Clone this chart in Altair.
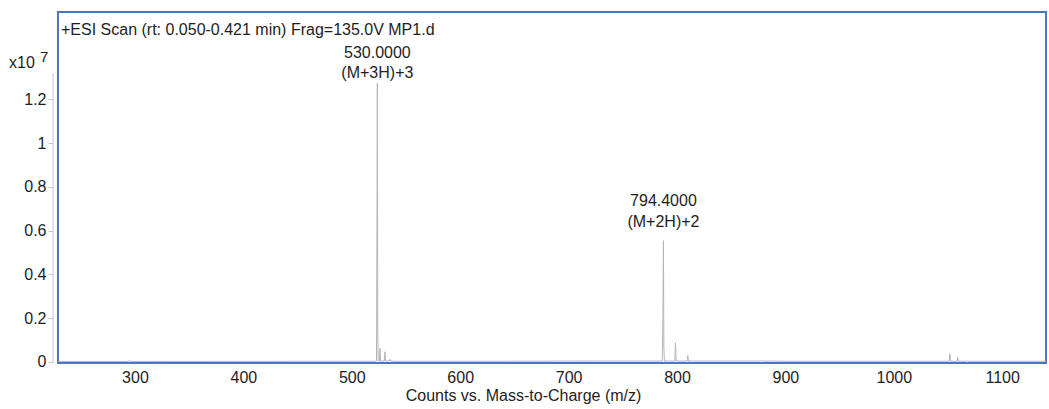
import altair as alt
import pandas as pd

# Spectrum profile (m/z, intensity in units of 1e7 counts)
mz = [229, 294.2, 295.0, 295.8, 522.0, 522.8, 523.3, 523.6, 524.0, 524.4,
      525.5, 526.0, 526.5, 530.0, 530.6, 531.2, 534.5, 535.2, 536.0, 540,
      620, 745, 786.4, 787.0, 787.5, 787.9, 788.4, 798.0, 798.6, 799.2,
      809.4, 810.0, 810.6, 820, 877.3, 878.0, 878.7, 900, 1051.0, 1051.7,
      1052.4, 1058.4, 1059.0, 1059.6, 1067.4, 1068.0, 1068.6, 1140.4]
intensity = [0.002, 0.002, 0.008, 0.002, 0.003, 0.004, 0.72, 1.275, 0.12, 0.004,
             0.004, 0.062, 0.004, 0.004, 0.046, 0.004, 0.004, 0.012, 0.004, 0.003,
             0.003, 0.004, 0.004, 0.19, 0.555, 0.06, 0.004, 0.004, 0.087, 0.004,
             0.004, 0.029, 0.004, 0.004, 0.004, 0.007, 0.004, 0.003, 0.003, 0.037,
             0.003, 0.003, 0.02, 0.003, 0.003, 0.006, 0.003, 0.003]

peak_mz = [523.6, 787.5]
peak_h = [1.275, 0.555]
peak_value = ["530.0000", "794.4000"]
peak_ion = ["(M+3H)+3", "(M+2H)+2"]

x_ticks = [300, 400, 500, 600, 700, 800, 900, 1000, 1100]
y_ticks = [0, 0.2, 0.4, 0.6, 0.8, 1.0, 1.2]

FONT = "Liberation Sans"
TXT = "#1e1e1e"

spec = pd.DataFrame({"mz": mz, "i": intensity})
peaks = pd.DataFrame({"mz": peak_mz, "h": peak_h, "v": peak_value, "ion": peak_ion})
one = pd.DataFrame({"k": [0]})

xs = alt.Scale(domain=[229, 1140.4], nice=False, zero=False)
ys = alt.Scale(domain=[-0.005, 1.6], nice=False, zero=False)

line = alt.Chart(spec).mark_line(color="#b5b5b5", strokeWidth=1).encode(
    x=alt.X("mz:Q", scale=xs, axis=alt.Axis(
        values=x_ticks, format="d", ticks=False, tickSize=0, domain=False, grid=False,
        labelFontSize=16, labelFont=FONT, labelColor=TXT, labelPadding=6,
        title="Counts vs. Mass-to-Charge (m/z)", titleFont=FONT, titleFontSize=16,
        titleFontWeight="normal", titleColor=TXT, titlePadding=2,
        titleX=465, titleAlign="center")),
    y=alt.Y("i:Q", scale=ys, axis=alt.Axis(
        values=y_ticks, format="~g", tickSize=5, tickColor="#c8c8c8", offset=5,
        domain=False, grid=False, labelFontSize=16, labelFont=FONT,
        labelColor=TXT, labelPadding=2, title="")),
)

axis_line = alt.Chart(one).mark_rule(color="#c8c8c8", strokeWidth=1).encode(
    x=alt.value(-5), y=alt.value(61), y2=alt.value(350))

def label(idx, field, dy):
    return alt.Chart(peaks.iloc[[idx]]).mark_text(
        font=FONT, fontSize=16, color=TXT, baseline="middle", dy=dy).encode(
        x="mz:Q", y="h:Q", text=f"{field}:N")

labels = [label(0, "v", -30), label(0, "ion", -10), label(1, "v", -40), label(1, "ion", -19)]

title = alt.Chart(one).mark_text(
    font=FONT, fontSize=16, color=TXT, align="left", baseline="middle",
    text="+ESI Scan (rt: 0.050-0.421 min) Frag=135.0V MP1.d").encode(
    x=alt.value(3), y=alt.value(18))

x10 = alt.Chart(one).mark_text(
    font=FONT, fontSize=16, color=TXT, align="left", baseline="middle",
    text="x10").encode(x=alt.value(-49), y=alt.value(51))
sup = alt.Chart(one).mark_text(
    font=FONT, fontSize=15, color=TXT, align="left", baseline="middle",
    text="7").encode(x=alt.value(-18), y=alt.value(45))

chart = alt.layer(line, axis_line, *labels, title, x10, sup).properties(
    width=988, height=351,
    autosize=alt.AutoSizeParams(type="none"),
    padding={"left": 58, "top": 12, "right": 3, "bottom": 46},
).configure_view(stroke="#4a76c0", strokeWidth=2)

chart.save("out.html", embed_options={"renderer": "svg", "actions": False})
